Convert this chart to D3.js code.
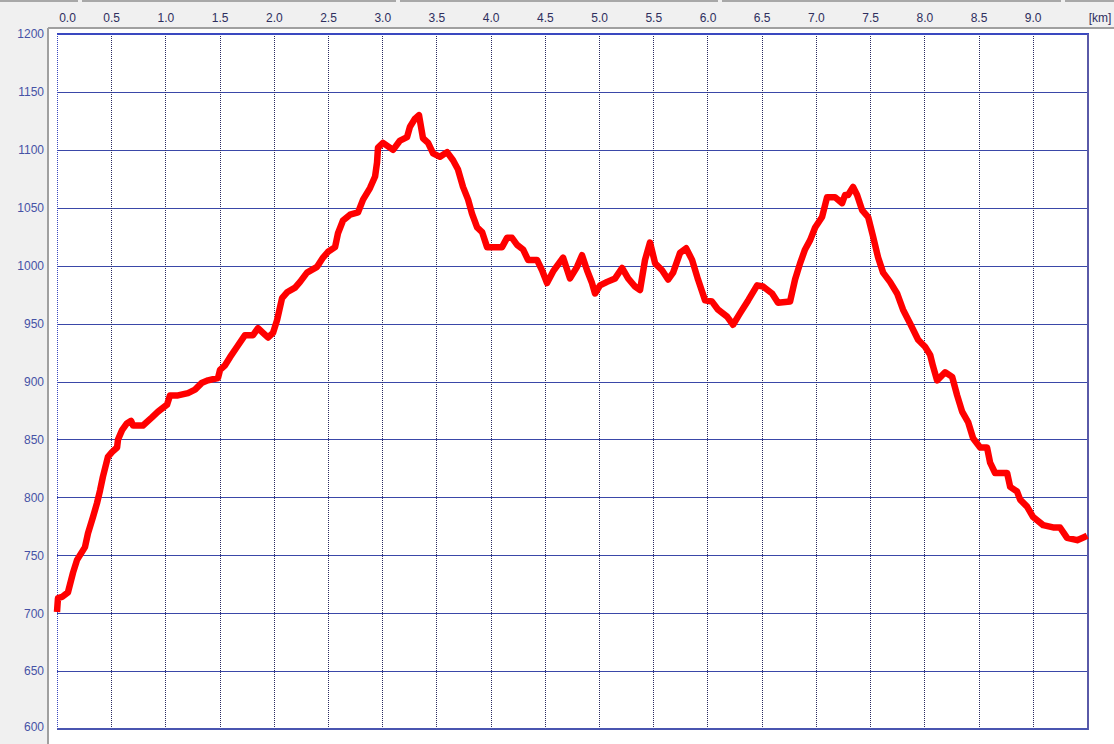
<!DOCTYPE html>
<html>
<head>
<meta charset="utf-8">
<script src="https://cdn.jsdelivr.net/npm/d3@7"></script>
<style>
  body { margin: 0; background: #f0f0f0; }
  svg { display: block; }
  .tick text { font-family: "Liberation Sans", Arial, sans-serif; font-size: 12px; }
</style>
</head>
<body>
<div id="chart"></div>
<script>
// Distance along the route (km) and elevation (m).
var distanceKm = [
  0.000, 0.009, 0.046, 0.101, 0.148, 0.185, 0.258, 0.286, 0.332, 0.369,
  0.397, 0.424, 0.470, 0.507, 0.554, 0.563, 0.600, 0.646, 0.683, 0.701,
  0.793, 0.876, 0.932, 1.015, 1.042, 1.116, 1.208, 1.273, 1.338, 1.393,
  1.485, 1.504, 1.550, 1.596, 1.661, 1.734, 1.808, 1.854, 1.900, 1.946,
  1.993, 2.030, 2.076, 2.122, 2.196, 2.242, 2.306, 2.399, 2.454, 2.500,
  2.565, 2.592, 2.638, 2.703, 2.777, 2.823, 2.887, 2.934, 2.952, 2.961,
  3.007, 3.100, 3.164, 3.229, 3.256, 3.303, 3.339, 3.376, 3.423, 3.469,
  3.533, 3.598, 3.653, 3.699, 3.745, 3.792, 3.828, 3.875, 3.921, 3.967,
  4.022, 4.105, 4.151, 4.197, 4.244, 4.299, 4.345, 4.428, 4.474, 4.520,
  4.576, 4.668, 4.732, 4.797, 4.843, 4.889, 4.935, 4.963, 5.009, 5.074,
  5.148, 5.212, 5.268, 5.332, 5.378, 5.424, 5.470, 5.517, 5.581, 5.637,
  5.683, 5.747, 5.803, 5.858, 5.913, 5.978, 6.042, 6.098, 6.181, 6.236,
  6.301, 6.375, 6.458, 6.513, 6.596, 6.651, 6.762, 6.808, 6.854, 6.900,
  6.947, 6.993, 7.057, 7.103, 7.177, 7.242, 7.269, 7.297, 7.343, 7.380,
  7.426, 7.482, 7.528, 7.574, 7.620, 7.684, 7.749, 7.804, 7.869, 7.943,
  8.007, 8.054, 8.081, 8.118, 8.192, 8.257, 8.303, 8.349, 8.404, 8.450,
  8.515, 8.579, 8.607, 8.653, 8.764, 8.792, 8.856, 8.884, 8.948, 9.004,
  9.096, 9.188, 9.252, 9.317, 9.410, 9.483, 9.502
];
var elevationM = [
  701, 713, 714, 718, 735, 746, 757, 769, 783, 795,
  806, 818, 835, 839, 843, 850, 858, 864, 866, 862,
  862, 869, 874, 880, 888, 888, 890, 893, 899, 901,
  903, 910, 914, 921, 930, 940, 940, 946, 942, 938,
  942, 953, 972, 977, 981, 986, 994, 999, 1007, 1012,
  1016, 1028, 1039, 1044, 1046, 1057, 1067, 1077, 1089, 1102,
  1106, 1100, 1108, 1111, 1120, 1127, 1130, 1110, 1106, 1097,
  1094, 1098, 1091, 1083, 1068, 1057, 1045, 1033, 1029, 1016,
  1016, 1016, 1024, 1024, 1018, 1014, 1005, 1005, 996, 985,
  995, 1007, 989, 999, 1009, 996, 985, 976, 983, 986,
  989, 998, 989, 982, 979, 1005, 1020, 1002, 996, 988,
  994, 1011, 1015, 1005, 988, 970, 969, 962, 956, 949,
  959, 970, 983, 982, 976, 968, 969, 988, 1002, 1014,
  1022, 1033, 1042, 1059, 1059, 1054, 1061, 1061, 1068, 1061,
  1048, 1042, 1025, 1007, 994, 986, 976, 962, 950, 936,
  930, 923, 913, 901, 908, 904, 888, 874, 865, 851,
  843, 843, 830, 821, 821, 809, 805, 798, 792, 783,
  776, 774, 774, 765, 763, 766, 767
];
var kmTicks = [0, 0.5, 1, 1.5, 2, 2.5, 3, 3.5, 4, 4.5, 5, 5.5, 6, 6.5, 7, 7.5, 8, 8.5, 9];
var elevTicks = [600, 650, 700, 750, 800, 850, 900, 950, 1000, 1050, 1100, 1150, 1200];

(function() {
  var points = distanceKm.map(function(d, i) { return { km: d, elev: elevationM[i] }; });

  var width = 1114;
  var height = 744;
  var plotLeft = 57, plotRight = 1088, plotTop = 34, plotBottom = 729;

  var xScale = d3.scaleLinear().domain([0, 9.51]).range([plotLeft, plotRight]);
  var yScale = d3.scaleLinear().domain([600, 1200]).range([plotBottom, plotTop]);

  var svg = d3.select('#chart')
    .append('svg')
    .attr('width', width)
    .attr('height', height);

  // Window chrome: gray frame with a white drawing area.
  svg.append('rect')
    .attr('width', width).attr('height', height)
    .attr('fill', '#f0f0f0');
  svg.append('rect')
    .attr('x', 49).attr('y', 29)
    .attr('width', width - 49).attr('height', height - 29)
    .attr('fill', '#fff');
  svg.append('line')
    .attr('x1', 48).attr('x2', width).attr('y1', 28).attr('y2', 28)
    .attr('stroke', '#a0a0a0').attr('stroke-width', 2)
    .attr('shape-rendering', 'crispEdges');
  svg.append('line')
    .attr('x1', 48).attr('x2', 48).attr('y1', 28).attr('y2', height)
    .attr('stroke', '#a0a0a0').attr('stroke-width', 2)
    .attr('shape-rendering', 'crispEdges');
  // Top edge with small gaps like the toolbar above.
  [[0, 78], [82, 396], [400, 718], [722, 1061], [1065, 1114]].forEach(function(s) {
    svg.append('line')
      .attr('x1', s[0]).attr('x2', s[1]).attr('y1', 1).attr('y2', 1)
      .attr('stroke', '#a8a8a8').attr('stroke-width', 2)
      .attr('shape-rendering', 'crispEdges');
  });

  // Horizontal grid.
  svg.append('g')
    .attr('class', 'y grid')
    .attr('transform', 'translate(' + plotLeft + ',0)')
    .call(d3.axisRight(yScale).tickValues(elevTicks.slice(1, -1)).tickSize(plotRight - plotLeft).tickFormat(''))
    .call(function(g) { g.select('.domain').remove(); })
    .selectAll('line')
    .attr('stroke', '#3a48a8')
    .attr('shape-rendering', 'crispEdges');

  // Vertical dotted grid.
  svg.append('g')
    .attr('class', 'x grid')
    .attr('transform', 'translate(0,' + plotTop + ')')
    .call(d3.axisBottom(xScale).tickValues(kmTicks).tickSize(plotBottom - plotTop).tickFormat(''))
    .call(function(g) { g.select('.domain').remove(); })
    .selectAll('line')
    .attr('stroke', function(d) { return d === 0 ? '#3a48c0' : '#2a2a60'; })
    .attr('stroke-dasharray', '1,1')
    .attr('shape-rendering', 'crispEdges');

  // Plot border.
  svg.append('line')
    .attr('x1', plotLeft).attr('x2', plotRight + 1).attr('y1', plotTop).attr('y2', plotTop)
    .attr('stroke', '#3a48c0').attr('stroke-width', 2)
    .attr('shape-rendering', 'crispEdges');
  svg.append('line')
    .attr('x1', plotRight).attr('x2', plotRight).attr('y1', plotTop).attr('y2', plotBottom + 1)
    .attr('stroke', '#5a5aa8').attr('stroke-width', 2)
    .attr('shape-rendering', 'crispEdges');
  svg.append('line')
    .attr('x1', plotLeft).attr('x2', plotRight).attr('y1', plotBottom).attr('y2', plotBottom)
    .attr('stroke', '#4a55b0').attr('stroke-width', 2)
    .attr('shape-rendering', 'crispEdges');

  // Elevation profile.
  var line = d3.line()
    .x(function(d) { return xScale(d.km); })
    .y(function(d) { return yScale(d.elev); });

  svg.append('path')
    .datum(points)
    .attr('fill', 'none')
    .attr('stroke', '#ff0000')
    .attr('stroke-width', 6.5)
    .attr('stroke-linejoin', 'round')
    .attr('stroke-linecap', 'butt')
    .attr('d', line);

  // Top axis labels.
  var xAxis = svg.append('g')
    .attr('class', 'x axis')
    .attr('transform', 'translate(0,22)')
    .call(d3.axisTop(xScale).tickValues(kmTicks).tickSize(0).tickPadding(0).tickFormat(d3.format('.1f')));
  xAxis.select('.domain').remove();
  xAxis.selectAll('text')
    .attr('fill', '#2e2e5e')
    .attr('dy', 0)
    .attr('dx', function(d) { return d === 0 ? 10 : 0; });
  svg.append('text')
    .attr('x', 1100).attr('y', 22)
    .attr('text-anchor', 'middle')
    .attr('fill', '#2e2e5e')
    .style('font-family', '"Liberation Sans", Arial, sans-serif')
    .style('font-size', '12px')
    .text('[km]');

  // Left axis labels.
  var yAxis = svg.append('g')
    .attr('class', 'y axis')
    .attr('transform', 'translate(44,0)')
    .call(d3.axisLeft(yScale).tickValues(elevTicks).tickSize(0).tickPadding(0).tickFormat(d3.format('d')));
  yAxis.select('.domain').remove();
  yAxis.selectAll('text')
    .attr('fill', '#4652a6')
    .attr('dy', function(d) { return d === 600 ? '0.1em' : '0.32em'; });
})();
</script>
</body>
</html>
